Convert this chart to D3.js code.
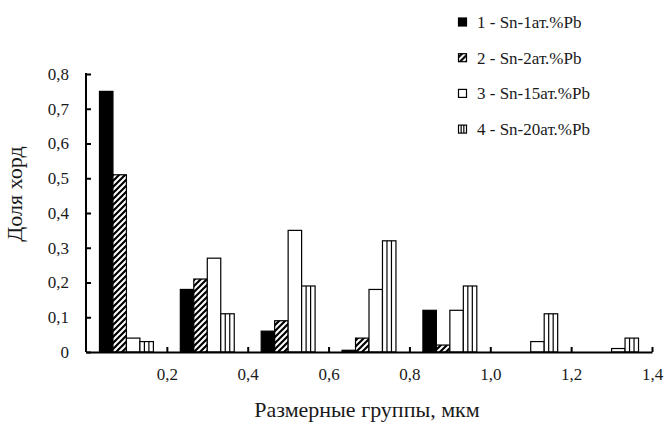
<!DOCTYPE html>
<html>
<head>
<meta charset="utf-8">
<script src="https://cdn.jsdelivr.net/npm/d3@7"></script>
<style>
  body { margin: 0; background: #fff; }
  svg text { font-family: "Liberation Serif", "Times New Roman", serif; fill: #1a1a1a; }
</style>
</head>
<body>
<div id="chart"></div>
<script>
// data
const groups = [0.1, 0.3, 0.5, 0.7, 0.9, 1.1, 1.3];
const seriesNames = ["1 - Sn-1ат.%Pb", "2 - Sn-2ат.%Pb", "3 - Sn-15ат.%Pb", "4 - Sn-20ат.%Pb"];
const s1 = [0.75, 0.18, 0.06, 0.005, 0.12, 0, 0];
const s2 = [0.51, 0.21, 0.09, 0.04, 0.02, 0, 0];
const s3 = [0.04, 0.27, 0.35, 0.18, 0.12, 0.03, 0.01];
const s4 = [0.03, 0.11, 0.19, 0.32, 0.19, 0.11, 0.04];
const xTicks = [0.2, 0.4, 0.6, 0.8, 1.0, 1.2, 1.4];
const yTicks = [0, 0.1, 0.2, 0.3, 0.4, 0.5, 0.6, 0.7, 0.8];

const allSeries = [s1, s2, s3, s4];

const width = 665;
const height = 425;
const margin = {left: 86, right: 13, top: 74, bottom: 73};
const serif = "'Liberation Serif', 'Times New Roman', serif";

const fmt = d => d === 0 ? "0" : d3.format(".1f")(d).replace(".", ",");

const xScale = d3.scaleLinear()
  .domain([0, 1.4])
  .range([margin.left, width - margin.right]);

const yScale = d3.scaleLinear()
  .domain([0, 0.8])
  .range([height - margin.bottom, margin.top]);

const svg = d3.select("#chart")
  .append("svg")
  .attr("width", width)
  .attr("height", height)
  .attr("font-family", serif);

// hatch pattern
const defs = svg.append("defs");
const hatch = defs.append("pattern")
  .attr("id", "hatch")
  .attr("patternUnits", "userSpaceOnUse")
  .attr("width", 6)
  .attr("height", 6);
hatch.append("rect").attr("width", 6).attr("height", 6).attr("fill", "#fff");
hatch.append("path")
  .attr("d", "M-1,7 L7,-1 M-4,4 L4,-4 M2,10 L10,2")
  .attr("stroke", "#000")
  .attr("stroke-width", 2.2);

const barW = xScale(0.2 / 6) - xScale(0);
const fills = ["#000", "url(#hatch)", "#fff", "#fff"];

allSeries.forEach((vals, si) => {
  const g = svg.append("g").attr("class", "series" + si);
  const bars = g.selectAll("g")
    .data(vals.map((v, i) => ({v: v, c: groups[i]})).filter(d => d.v > 0))
    .enter().append("g");

  bars.append("rect")
    .attr("x", d => xScale(d.c) + (si - 2) * barW)
    .attr("y", d => yScale(d.v))
    .attr("width", barW)
    .attr("height", d => yScale(0) - yScale(d.v))
    .attr("fill", fills[si])
    .attr("stroke", "#000")
    .attr("stroke-width", 1.2);

  // vertical stripes for series 4
  if (si === 3) {
    [1, 2].forEach(k => {
      bars.append("line")
        .attr("x1", d => xScale(d.c) + (si - 2) * barW + barW * k / 3)
        .attr("x2", d => xScale(d.c) + (si - 2) * barW + barW * k / 3)
        .attr("y1", d => yScale(d.v))
        .attr("y2", yScale(0))
        .attr("stroke", "#000")
        .attr("stroke-width", 1.2);
    });
  }
});

// axes
const yAxis = d3.axisLeft(yScale)
  .tickValues(yTicks)
  .tickFormat(fmt)
  .tickSizeInner(-5)
  .tickSizeOuter(0)
  .tickPadding(17);

const yG = svg.append("g")
  .attr("transform", "translate(" + margin.left + ",0)")
  .call(yAxis);

const xAxis = d3.axisBottom(xScale)
  .tickValues(xTicks)
  .tickFormat(fmt)
  .tickSizeInner(-5)
  .tickSizeOuter(0)
  .tickPadding(16);

const xG = svg.append("g")
  .attr("transform", "translate(0," + yScale(0) + ")")
  .call(xAxis);

[yG, xG].forEach(a => {
  a.attr("font-family", serif).attr("font-size", 17);
  a.select(".domain").attr("stroke", "#000").attr("stroke-width", 2);
  a.selectAll(".tick line").attr("stroke", "#000").attr("stroke-width", 2);
  a.selectAll(".tick text").attr("fill", "#1a1a1a");
});
yG.select(".domain").attr("d", "M0," + yScale(0) + "V" + (yScale(0.8) - 1));

// titles
svg.append("text")
  .attr("transform", "translate(22,194) rotate(-90)")
  .attr("text-anchor", "middle")
  .style("font-size", "22px")
  .text("Доля хорд");

svg.append("text")
  .attr("x", 367)
  .attr("y", 417)
  .attr("text-anchor", "middle")
  .style("font-size", "22px")
  .text("Размерные группы, мкм");

// legend
const legend = svg.append("g").attr("transform", "translate(458,22)");
const items = legend.selectAll("g")
  .data(seriesNames)
  .enter().append("g")
  .attr("transform", (d, i) => "translate(0," + i * 35.7 + ")");

items.append("rect")
  .attr("x", 0.5)
  .attr("y", -4)
  .attr("width", 8)
  .attr("height", 8)
  .attr("fill", (d, i) => fills[i])
  .attr("stroke", "#000")
  .attr("stroke-width", 1.2);

items.filter((d, i) => i === 3).each(function() {
  const it = d3.select(this);
  [1, 2].forEach(k => {
    it.append("line")
      .attr("x1", 0.5 + 8 * k / 3).attr("x2", 0.5 + 8 * k / 3)
      .attr("y1", -4).attr("y2", 4)
      .attr("stroke", "#000").attr("stroke-width", 1.2);
  });
});

items.append("text")
  .attr("x", 19)
  .attr("y", 0)
  .attr("dy", "0.35em")
  .style("font-size", "17px")
  .text(d => d);
</script>
</body>
</html>
